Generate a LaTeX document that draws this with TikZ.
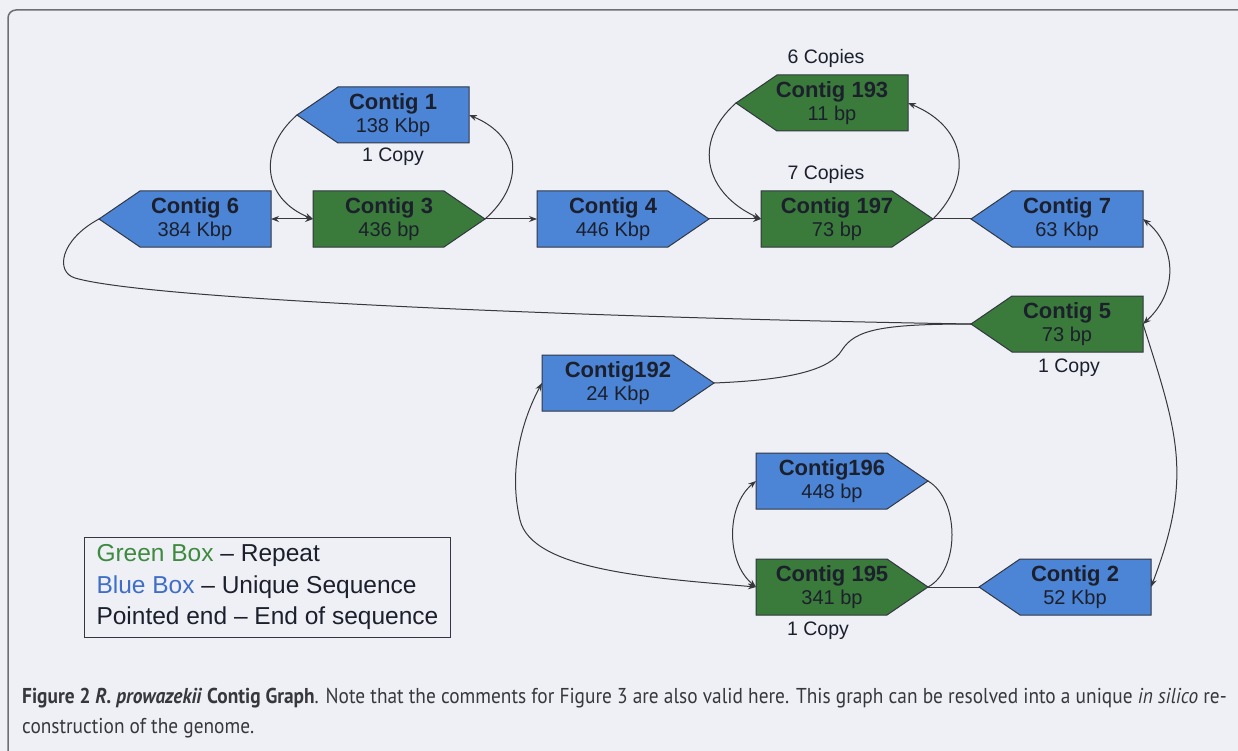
\documentclass[tikz,border=0pt]{standalone}
\usepackage{fontspec}
\setmainfont{Liberation Sans}
\newfontfamily\capfont[FakeStretch=0.9]{PT Sans}
\usetikzlibrary{arrows.meta}
\definecolor{bgpaper}{RGB}{238,240,246}
\definecolor{contigblue}{RGB}{76,132,214}
\definecolor{contiggreen}{RGB}{58,122,58}
\definecolor{boxline}{RGB}{50,55,65}
\definecolor{linkgray}{RGB}{55,55,60}
\definecolor{textdark}{RGB}{28,32,44}
\definecolor{framegray}{RGB}{110,110,115}
\definecolor{capgray}{RGB}{55,55,60}
\definecolor{legendgreen}{RGB}{62,138,62}
\definecolor{legendblue}{RGB}{62,110,200}
\tikzstyle{link} = [draw=linkgray, line width=1pt, >={Stealth[length=8pt,width=6pt]}]
\tikzset{
    contig/.style={align=center, text=textdark, inner sep=0pt, font=\fontsize{20}{23}\selectfont},
    copies/.style={text=textdark, inner sep=0pt, font=\fontsize{19.5}{22}\selectfont},
    legend/.style={draw=boxline, line width=1pt, anchor=west, align=left, minimum height=100pt, inner xsep=12pt, text=textdark, font=\fontsize{24.5}{31.5}\selectfont},
    caption/.style={anchor=west, inner sep=0pt, align=left, text=capgray, font=\capfont\fontsize{21.5}{30}\selectfont}
}
% #1 name, #2 text centre, #3 1 = points right / -1 = points left, #4 fill, #5 title, #6 length
\newcommand{\contig}[6]{
    \begin{scope}[shift={(#2)}, xscale=#3]
        \filldraw[fill=#4, draw=boxline, line width=1pt] (-76,-28) -- (55,-28) -- (96,0) -- (55,28) -- (-76,28) -- cycle;
        \coordinate (#1 tip) at (96,0);
        \coordinate (#1 end) at (-76,0);
    \end{scope}
    \node[contig] (#1) at (#2) {{\fontsize{22}{23}\selectfont\bfseries #5}\\#6};
}

\begin{document}
\begin{tikzpicture}[x=1pt, y=-1pt]
    \useasboundingbox (0,0) rectangle (1238,751);
    \fill[bgpaper] (0,0) rectangle (1238,751);
    \draw[framegray, line width=1.5pt, rounded corners=8pt] (1238,10) -- (8,10) -- (8,751);

    \contig{c1}{393,115}{-1}{contigblue}{Contig 1}{138 Kbp}
    \contig{c6}{195,219}{-1}{contigblue}{Contig 6}{384 Kbp}
    \contig{c3}{389,219}{1}{contiggreen}{Contig 3}{436 bp}
    \contig{c4}{613,219}{1}{contigblue}{Contig 4}{446 Kbp}
    \contig{c193}{832,103}{-1}{contiggreen}{Contig 193}{11 bp}
    \contig{c197}{837,219}{1}{contiggreen}{Contig 197}{73 bp}
    \contig{c7}{1067,219}{-1}{contigblue}{Contig 7}{63 Kbp}
    \contig{c5}{1067,324}{-1}{contiggreen}{Contig 5}{73 bp}
    \contig{c192}{618,383}{1}{contigblue}{Contig192}{24 Kbp}
    \contig{c196}{832,481}{1}{contigblue}{Contig196}{448 bp}
    \contig{c195}{832,587}{1}{contiggreen}{Contig 195}{341 bp}
    \contig{c2}{1075,587}{-1}{contigblue}{Contig 2}{52 Kbp}

    \node[copies] (c1n) at (393,157) {1 Copy};
    \node[copies] (c193n) at (826,58) {6 Copies};
    \node[copies] (c197n) at (826,174) {7 Copies};
    \node[copies] (c5n) at (1069,368) {1 Copy};
    \node[copies] (c195n) at (818,631) {1 Copy};

    \draw[link, <->] (c6 end) -- (c3 end);
    \draw[link, ->] (c1 tip) .. controls +(-40,35) and +(-50,-20) .. (c3 end);
    \draw[link, ->] (c3 tip) .. controls +(40,-35) and +(53,22) .. (c1 end);
    \draw[link, ->] (c3 tip) -- (c4 end);
    \draw[link, ->] (c4 tip) -- (c197 end);
    \draw[link, ->] (c193 tip) .. controls +(-45,40) and +(-55,-25) .. (c197 end);
    \draw[link, ->] (c197 tip) .. controls +(40,-40) and +(60,25) .. (c193 end);
    \draw[link] (c197 tip) -- (c7 tip);
    \draw[link, <->] (c7 end) .. controls +(32,26) and +(37,-34) .. (c5 end);
    \draw[link, ->] (c5 end) .. controls +(35,110) and +(42,-110) .. (c2 end);
    \draw[link] (c5 tip) .. controls (600,318) and (150,300) .. (75,278) .. controls (55,272) and (60,240) .. (c6 tip);
    \draw[link] (c5 tip) .. controls (880,324) and (855,330) .. (842,350) .. controls (830,370) and (790,380) .. (c192 tip);
    \draw[link, <->] (c192 end) .. controls (522,420) and (508,470) .. (520,520) .. controls (532,570) and (650,578) .. (c195 end);
    \draw[link, <->] (c196 end) .. controls +(-30,25) and +(-30,-25) .. (c195 end);
    \draw[link] (c196 tip) .. controls +(32,19) and +(32,-17) .. (c195 tip);
    \draw[link] (c195 tip) -- (c2 tip);

    % key
    \node[legend] (key) at (84,587) {\textcolor{legendgreen}{Green Box} -- Repeat\\
        \textcolor{legendblue}{Blue Box} -- Unique Sequence\\
        Pointed end -- End of sequence};

    \node[caption] (cap) at (22,713) {\textbf{Figure 2 \textit{R. prowazekii} Contig Graph}. Note that the comments for Figure 3 are also valid here. This graph can be resolved into a unique \textit{in silico} re-\\construction of the genome.};
\end{tikzpicture}
\end{document}
